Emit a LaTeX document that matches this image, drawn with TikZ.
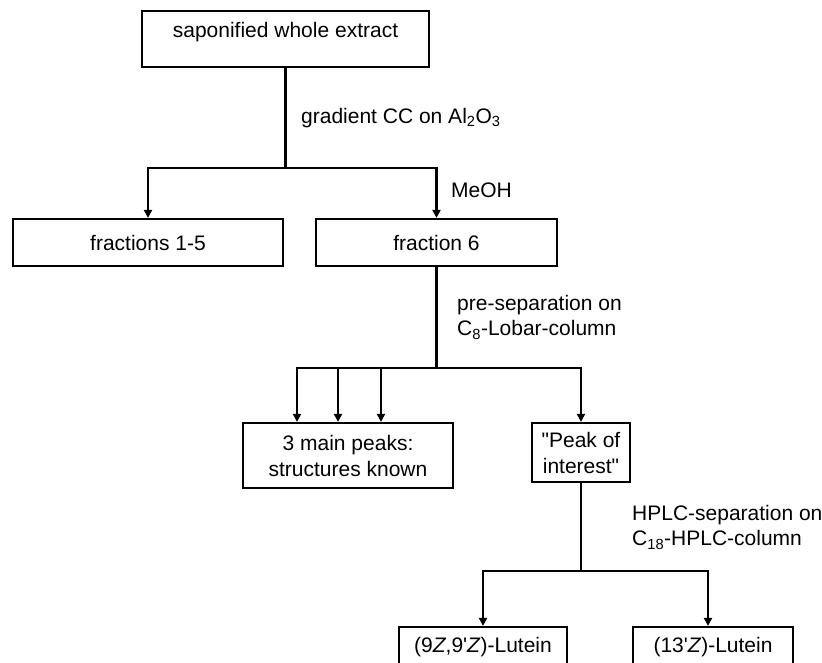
\documentclass[tikz,border=0pt]{standalone}
\usepackage{fontspec}
\setmainfont{Liberation Sans}
\usetikzlibrary{arrows.meta}
\begin{document}
\begin{tikzpicture}[x=1pt,y=1pt,yscale=-1,xscale=1,
  box/.style={draw,line width=2.2pt,inner sep=0pt,align=center,font=\fontsize{21}{26}\selectfont},
  lbl/.style={anchor=west,inner sep=0pt,align=left,font=\fontsize{21}{25}\selectfont},
  conn/.style={line width=2.2pt},
  arr/.style={conn,-{Triangle[length=8pt,width=8pt]}}]
\useasboundingbox (0,0) rectangle (822,662);
\clip (0,0) rectangle (822,662);

%Shape: Rectangle
\node[box,anchor=base,minimum width=287pt,text height=26pt,text depth=30pt] (whole) at (285.5,37) {saponified whole extract};
%Shape: Rectangle
\node[box,minimum width=270pt,minimum height=47pt] (frac15) at (148,242.5) {fractions 1-5};
%Shape: Rectangle
\node[box,minimum width=241pt,minimum height=47pt] (frac6) at (436.5,242.5) {fraction 6};
%Shape: Rectangle
\node[box,minimum width=210pt,minimum height=65pt] (peaks) at (348,455.5) {3 main peaks:\\structures known};
%Shape: Rectangle
\node[box,minimum width=98pt,minimum height=59pt] (interest) at (581,452.5) {\textquotedbl Peak of\\interest\textquotedbl};
%Shape: Rectangle
\node[box,minimum width=168pt,minimum height=40pt] (lutA) at (483,647) {(9\textit{Z},9\textquotesingle\textit{Z})-Lutein};
%Shape: Rectangle
\node[box,minimum width=160pt,minimum height=40pt] (lutB) at (713,647) {(13\textquotesingle\textit{Z})-Lutein};

\coordinate (s1) at (285.5,168);
\coordinate (s2) at (436.5,368);
\coordinate (s3) at (581,571);

%Straight Lines
\draw[conn] (whole.south) -- (s1);
\draw[arr] (s1) -| (frac15.north);
\draw[arr] (s1) -| (frac6.north);

%Straight Lines
\draw[conn] (frac6.south) -- (s2);
\draw[arr] (s2) -| ([xshift=-51pt]peaks.north);
\draw[arr] ([xshift=-10pt]peaks.north |- s2) -- ([xshift=-10pt]peaks.north);
\draw[arr] ([xshift=33pt]peaks.north |- s2) -- ([xshift=33pt]peaks.north);
\draw[arr] (s2) -| (interest.north);

%Straight Lines
\draw[conn] (interest.south) -- (s3);
\draw[arr] (s3) -| (lutA.north);
\draw[arr] (s3) -| ([xshift=-5pt]lutB.north);

% Text Node
\node[lbl] (cc) at (301,118) {gradient CC on Al\textsubscript{2}O\textsubscript{3}};
% Text Node
\node[lbl] (meoh) at (451,190) {MeOH};
% Text Node
\node[lbl] (lobar) at (457,317.5) {pre-separation on\\C\textsubscript{8}-Lobar-column};
% Text Node
\node[lbl] (hplc) at (632,527.5) {HPLC-separation on\\C\textsubscript{18}-HPLC-column};

\end{tikzpicture}
\end{document}
